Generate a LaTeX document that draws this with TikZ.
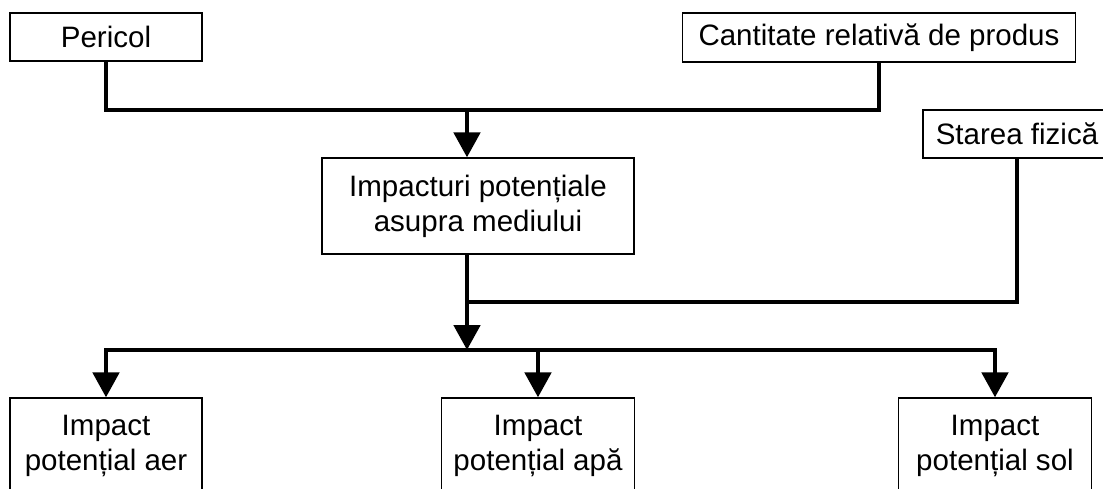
\documentclass[tikz,border=0pt]{standalone}
\usepackage{fontspec}
\setmainfont{Liberation Sans}
\usetikzlibrary{arrows.meta}
\tikzset{
  box/.style={rectangle, draw, line width=0.7pt, inner sep=0pt, align=center,
    font=\fontsize{16.8}{20}\selectfont},
  link/.style={line width=2.8pt},
  flow/.style={link, -{Triangle[width=0.52cm, length=0.5cm]}}
}
\begin{document}
\begin{tikzpicture}[x=0.02cm, y=-0.02cm]
      \useasboundingbox (0,0) rectangle (1103,488);
      \clip (0,0) rectangle (1103,488);
      % Nodes
      \node[box, minimum width=192*0.02cm, minimum height=48*0.02cm] at (106, 37) (pericol) {Pericol};
      \node[box, minimum width=393*0.02cm, minimum height=49*0.02cm] at (879, 37.5) (cant) {Cantitate relativă de produs};
      \node[box, minimum width=188*0.02cm, minimum height=48*0.02cm] at (1017, 134) (stare) {Starea fizică};
      \node[box, minimum width=312*0.02cm, minimum height=96*0.02cm] at (478, 206) (impact) {Impacturi potențiale\\asupra mediului};
      \node[box, minimum width=192*0.02cm, minimum height=96*0.02cm] at (106, 446) (aer) {Impact\\potențial aer};
      \node[box, minimum width=193*0.02cm, minimum height=96*0.02cm] at (538, 446) (apa) {Impact\\potențial apă};
      \node[box, minimum width=193*0.02cm, minimum height=96*0.02cm] at (995, 446) (sol) {Impact\\potențial sol};

      % Junctions
      \coordinate (top) at (467, 110);
      \coordinate (side) at (467, 302);
      \coordinate (split) at (467, 350);

      \draw[link] (pericol.south) |- (top) -| (cant.south);
      \draw[flow] (top) -- (top |- impact.north);
      \draw[flow] (top |- impact.south) -- (split);
      \draw[link] (stare.south) |- (side);

      \draw[flow] (split) -| (aer.north);
      \draw[flow] (split) -| (sol.north);
      \draw[flow] (apa.north |- split) -- (apa.north);
    \end{tikzpicture}
\end{document}
